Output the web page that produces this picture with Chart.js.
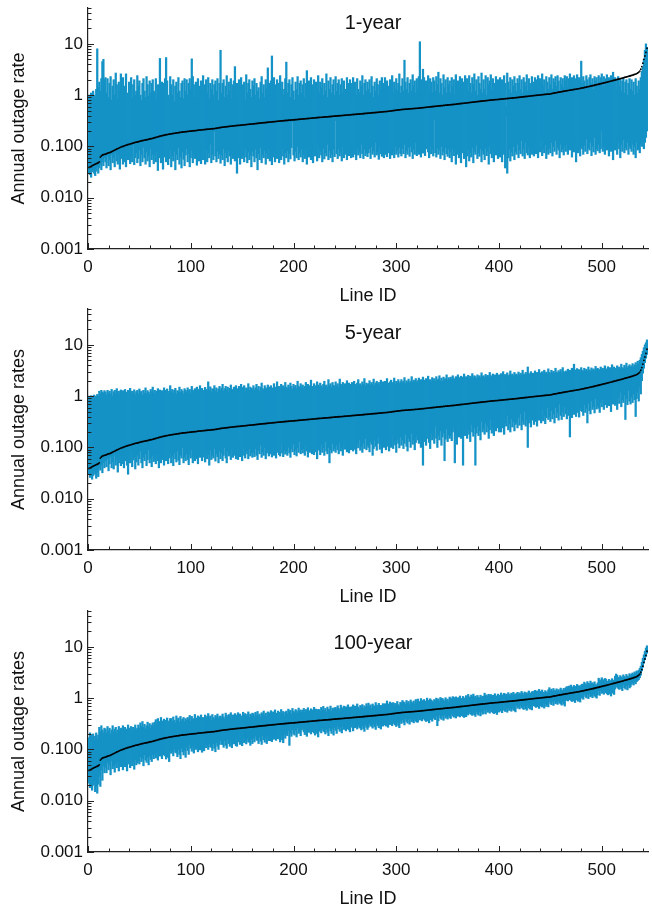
<!DOCTYPE html>
<html><head><meta charset="utf-8">
<title>Annual outage rate</title>
<script src="https://cdn.jsdelivr.net/npm/chart.js"></script>
<style>
    body { margin: 0; background: #fff; width: 652px; height: 912px; overflow: hidden; position: relative; }
    .painel { position: absolute; left: 0; width: 652px; height: 305px; }
</style></head>
<body>
<div class="painel" style="top:0"><canvas id="g1" width="652" height="305"></canvas></div>
<div class="painel" style="top:301px"><canvas id="g5" width="652" height="305"></canvas></div>
<div class="painel" style="top:603px"><canvas id="g100" width="652" height="305"></canvas></div>
<script>
// --- DADOS ---
// taxa de referencia de cada linha (ordenada), igual nos tres paineis
const taxaMedia = [
    .039,.04,.041,.042,.043,.044,.045,.046,.047,.048,.05,.062,.065,.068,.069,.07,
    .071,.072,.074,.075,.076,.077,.079,.081,.083,.085,.087,.089,.091,.093,.095,.097,
    .099,.1,.102,.104,.106,.107,.109,.11,.112,.113,.115,.117,.118,.12,.121,.122,
    .124,.125,.127,.129,.13,.131,.133,.134,.135,.136,.138,.14,.141,.142,.144,.146,
    .148,.15,.152,.154,.156,.158,.16,.162,.164,.165,.167,.169,.17,.172,.173,.175,
    .176,.177,.179,.18,.181,.183,.184,.185,.187,.188,.19,.191,.192,.193,.194,.195,
    .196,.197,.198,.199,.2,.201,.202,.203,.204,.205,.207,.208,.209,.21,.211,.212,
    .213,.214,.215,.216,.217,.218,.219,.22,.221,.222,.223,.225,.226,.228,.23,.232,
    .234,.236,.237,.238,.24,.241,.242,.244,.245,.246,.248,.249,.25,.252,.253,.255,
    .256,.257,.258,.259,.26,.262,.263,.264,.265,.267,.268,.27,.271,.272,.273,.275,
    .276,.277,.279,.28,.282,.283,.285,.286,.287,.289,.29,.291,.293,.294,.296,.297,
    .298,.3,.301,.303,.304,.305,.307,.308,.31,.311,.313,.314,.316,.317,.318,.32,
    .321,.322,.324,.325,.326,.328,.329,.33,.331,.333,.334,.336,.337,.339,.34,.341,
    .343,.344,.346,.347,.349,.35,.352,.353,.355,.356,.358,.359,.361,.362,.364,.366,
    .367,.369,.37,.372,.373,.375,.376,.377,.378,.38,.381,.383,.385,.386,.388,.39,
    .392,.393,.394,.396,.397,.399,.4,.402,.404,.405,.407,.409,.41,.412,.414,.415,
    .417,.419,.42,.422,.424,.426,.427,.429,.431,.433,.434,.436,.438,.44,.442,.443,
    .445,.447,.449,.451,.453,.455,.457,.459,.461,.463,.465,.467,.469,.471,.473,.475,
    .477,.479,.481,.484,.487,.49,.493,.496,.499,.502,.505,.508,.511,.514,.517,.52,
    .523,.526,.528,.53,.532,.534,.536,.538,.54,.542,.544,.546,.548,.55,.552,.554,
    .556,.558,.561,.564,.567,.57,.573,.576,.579,.582,.585,.588,.591,.594,.597,.6,
    .603,.606,.609,.612,.615,.618,.621,.624,.627,.63,.633,.636,.639,.642,.645,.648,
    .651,.654,.657,.66,.663,.667,.671,.675,.679,.683,.687,.69,.693,.697,.7,.704,
    .708,.712,.716,.72,.724,.728,.732,.736,.74,.744,.748,.752,.756,.76,.764,.768,
    .772,.776,.78,.784,.788,.792,.796,.8,.804,.808,.812,.815,.818,.821,.824,.828,
    .832,.836,.84,.844,.848,.852,.856,.86,.864,.868,.872,.876,.88,.884,.888,.892,
    .896,.9,.905,.91,.915,.92,.925,.93,.935,.94,.945,.95,.955,.96,.965,.97,
    .975,.98,.985,.99,.995,1,1.005,1.01,1.015,1.02,1.025,1.03,1.035,1.04,1.045,1.05,
    1.05,1.06,1.07,1.08,1.09,1.1,1.11,1.12,1.13,1.14,1.15,1.16,1.17,1.18,1.19,1.2,
    1.21,1.22,1.23,1.24,1.25,1.26,1.27,1.28,1.29,1.3,1.31,1.32,1.33,1.34,1.35,1.37,
    1.38,1.39,1.41,1.42,1.44,1.45,1.47,1.48,1.5,1.51,1.53,1.54,1.56,1.58,1.6,1.62,
    1.63,1.65,1.67,1.69,1.71,1.73,1.75,1.77,1.79,1.81,1.84,1.86,1.88,1.9,1.93,1.95,
    1.97,2,2.02,2.05,2.07,2.1,2.12,2.15,2.18,2.21,2.24,2.27,2.3,2.33,2.36,2.39,
    2.42,2.46,2.5,2.54,2.58,2.63,2.7,2.8,2.95,3.2,3.6,4.2,5,5.8,6.8,8.2
];

// faixa estimada com 1 ano de registros
const max1Ano = [
    1,.9,1.1,1,1.2,1,.9,1.3,8,1.4,1.8,1.2,2.1,4.5,5,2,
    2.2,1.1,2.1,.9,1.7,2.3,.8,1.5,2,1,2.7,1.6,.85,1.8,1.2,2.6,
    1.7,2.2,.9,1.5,2.6,1.1,.75,1.8,1.2,2.2,.85,1.6,2,1,1.2,2.4,
    1.5,1.9,1,.8,1.7,2.1,1.2,.9,2.3,1.6,.95,1.9,1.1,1.7,2,1.2,
    1.1,2.1,.8,1.6,1,5.2,1.2,1.8,.9,1.7,2.1,5.4,1.9,1,.85,2.3,
    1.6,1,2,.75,1.5,1.8,1.1,2.2,1.2,.9,1.7,1.9,.85,2.1,1.2,2,
    1,1.7,2.1,1.3,5.1,2.3,1.6,.9,1.8,1.1,2.1,1.5,.8,1.9,1.2,2.4,
    .9,1.6,2,1.1,2.2,.85,1.7,1.3,2,1,1.6,1.9,1.2,2.1,.8,1.7,
    7.5,1.1,1.7,2,.9,1.5,2.4,1,1.8,1.2,2.1,.85,1.6,1.9,3.6,1.1,
    1.7,.9,2,1.2,2.2,1,1.6,1.8,.8,2.5,1.1,1.7,2,1.3,.9,1.9,
    1.5,2.1,1,1.7,1.2,1.4,.85,1.8,2.3,1.1,1.6,.9,2,1.3,3.4,1.7,
    1,1.9,5.8,.85,2.2,1.6,1.1,2,.9,1.7,2.4,1.3,1.8,1,1.3,2.1,
    4.4,1.1,1.7,2,.9,1.6,2.2,1.2,.8,1.8,1.3,2.3,1,1.7,1.9,1.1,
    1.6,2.1,.9,1.7,3,1.1,1.9,1.3,2.2,1,1.6,2,.85,1.8,1.2,2.4,
    1.1,1.8,1.4,2.1,1,1.7,1.2,2.6,.9,1.9,1.3,2.2,1.1,1.6,2,1,
    2.3,1.2,1.7,2,1,1.6,2.1,1.1,1.9,1.3,.9,2.2,1.7,1.2,2,1.1,
    1.7,2.2,1.2,1.8,1,2.1,1.3,1.1,1.9,1.5,2.4,1,1.7,2,1.2,1.8,
    1.3,2,1.1,2.3,1.5,.9,1.8,1.2,2.1,1.6,1,1.9,1.3,2.2,1.1,1.7,
    2.2,1.2,1.9,1.5,1,2,1.6,2.4,1.1,1.8,1.3,2.1,1.2,1.7,2.6,1.1,
    1.5,2.1,1.2,4.8,1.8,1.3,2.2,1.1,1.7,2,1.2,2.5,1.5,1.9,1.1,2.1,
    1.3,2.3,11,2,1.5,3.2,2.2,1.2,1.9,1.6,2.4,1.2,2.1,1.8,1.1,2.2,
    1.9,1.2,2.3,1.6,2.8,1.1,2.1,1.7,1,2.5,1.4,2,1.1,2.2,1.6,1.9,
    1.1,2.2,1.5,2,1,2.5,1.6,1.9,1.1,2.3,1.4,2.1,1.2,1.8,2.4,1.4,
    2.1,1.2,2.4,1.7,1.1,2.2,1.6,2.6,1.2,2,1,2.3,1.7,1.3,2.7,1.1,
    2,1.3,2.4,1,2.2,1.6,1.9,2.5,1.2,2.1,1.7,1.1,2.3,1.5,2,1.2,
    2.2,1.5,2,1.1,2.4,1.7,.6,2.7,1.8,1.3,2.2,1.1,2,1.5,2.3,1.7,
    1.2,2.1,1.7,2.4,1.3,2,1.1,2.2,1.8,1.5,2.5,1.2,2.1,1.7,1.3,2.3,
    1.8,1.3,2.2,1.5,2,2.4,1.2,2.1,1.7,2.6,1.5,2,1.1,2.3,1.8,1.3,
    2.2,1.6,2.5,1.3,2.1,1.8,2.3,1.5,2.4,1.9,1.2,2.2,1.6,2.1,1.4,2.4,
    1.9,2.3,1.4,2.1,2.6,1.6,2.2,1.8,2.4,1.3,2.1,2.5,1.6,2.2,1.9,4.6,
    1.7,2.3,1.9,1.4,2.4,2,1.5,2.2,2.5,1.7,2.1,1.3,2.3,1.9,2.2,1.5,
    2.4,1.8,2.2,2.6,1.6,2.3,1.4,2.1,2.5,1.8,2.2,1.5,2.4,2,2.8,1.6,
    2.2,1.3,2,2.3,1.5,2.1,1.2,1.9,2.2,1.1,1.8,2,1,1.7,2.1,1.3,
    2,1.2,1.8,1,2.1,1.5,1.1,1.9,1.3,2.2,2.9,3.5,5,7.5,10,8.5
];
const min1Ano = [
    .03,.028,.025,.032,.035,.03,.027,.033,.04,.03,.038,.045,.035,.05,.042,.06,
    .05,.038,.065,.042,.055,.035,.07,.048,.06,.04,.075,.052,.045,.068,.036,.058,
    .062,.045,.08,.05,.04,.07,.055,.09,.046,.065,.05,.11,.044,.06,.075,.048,
    .058,.085,.042,.07,.05,.095,.06,.045,.078,.052,.065,.04,.088,.055,.07,.046,
    .068,.05,.082,.034,.06,.09,.048,.072,.036,.062,.1,.05,.075,.044,.058,.085,
    .04,.065,.052,.08,.035,.07,.055,.095,.045,.062,.038,.078,.056,.042,.068,.09,
    .05,.072,.04,.06,.085,.048,.07,.058,.1,.043,.065,.052,.08,.046,.07,.055,
    .062,.045,.088,.05,.075,.06,.11,.048,.07,.055,.2,.065,.05,.08,.058,.072,
    .047,.068,.055,.09,.042,.075,.06,.05,.082,.065,.045,.07,.058,.095,.052,.068,
    .03,.06,.075,.045,.085,.058,.07,.05,.09,.062,.048,.078,.055,.067,.04,.08,
    .065,.05,.088,.06,.035,.072,.055,.095,.048,.07,.06,.083,.045,.075,.058,.09,
    .052,.07,.044,.085,.062,.05,.078,.058,.1,.048,.068,.055,.09,.065,.045,.075,
    .06,.082,.05,.072,.057,.095,.3,.068,.052,.08,.06,.1,.055,.075,.062,.088,
    .05,.07,.058,.09,.045,.078,.062,.105,.055,.072,.048,.085,.065,.075,.052,.095,
    .06,.08,.068,.05,.092,.057,.075,.065,.11,.055,.082,.06,.07,.05,.088,.063,
    .32,.072,.058,.09,.065,.078,.052,.1,.06,.082,.07,.055,.095,.066,.078,.06,
    .085,.062,.1,.07,.055,.09,.068,.078,.06,.11,.072,.058,.088,.066,.075,.063,
    .075,.09,.058,.1,.07,.082,.062,.12,.068,.078,.056,.095,.072,.064,.088,.06,
    .07,.085,.063,.105,.075,.058,.092,.068,.08,.06,.1,.07,.085,.062,.095,.073,
    .065,.09,.072,.11,.06,.082,.07,.095,.064,.1,.078,.058,.088,.07,.12,.066,
    .08,.07,.095,.062,.085,.074,.11,.066,.09,.35,.078,.06,.1,.072,.088,.065,
    .34,.075,.062,.092,.07,.085,.058,.1,.068,.08,.055,.095,.072,.064,.088,.06,
    .078,.05,.09,.066,.082,.045,.1,.07,.06,.085,.048,.075,.092,.058,.07,.04,
    .065,.088,.052,.075,.062,.095,.048,.08,.07,.105,.058,.075,.064,.09,.05,.082,
    .07,.055,.092,.066,.08,.045,.1,.072,.06,.085,.05,.078,.068,.095,.058,.075,
    .062,.09,.05,.08,.07,.038,.4,.03,.06,.088,.052,.078,.065,.1,.055,.08,
    .07,.11,.06,.085,.072,.13,.065,.09,.058,.12,.075,.068,.095,.06,.082,.07,
    .1,.065,.088,.072,.12,.06,.095,.078,.14,.066,.09,.075,.11,.058,.085,.07,
    .092,.075,.12,.065,.1,.08,.13,.07,.095,.085,.06,.11,.078,.09,.068,.1,
    .08,.11,.07,.095,.085,.13,.062,.1,.078,.09,.05,.12,.075,.088,.065,.1,
    .09,.07,.105,.08,.14,.072,.095,.085,.12,.066,.1,.078,.15,.07,.09,.082,
    .11,.075,.09,.2,.08,.1,.07,.13,.085,.095,.065,.11,.08,.1,.055,.12,
    .085,.1,.07,.12,.09,.06,.11,.08,.135,.075,.095,.085,.12,.07,.1,.09,
    .08,.11,.07,.1,.06,.12,.085,.09,.075,.11,.1,.13,.09,.12,.15,.2
];

// faixa estimada com 5 anos
const max5Anos = [
    1,.98,1.02,.95,1,1.05,.97,1,1.08,1,1.25,1.1,1.3,1.2,1.15,1.28,
    1.2,1.05,1.3,1.15,1.25,1.1,1.35,1,1.22,1.3,1.12,1.4,1.18,1.25,1.05,1.32,
    1.15,1.28,1.08,1.35,1.2,1,1.3,1.18,1.42,1.1,1.25,1.15,1.33,1.05,1.22,1.3,
    1.1,1.38,1.2,1.25,1.05,1.3,1.15,1.45,1.12,1.28,1.2,1.08,1.35,1.22,1.5,1.15,
    1.3,1.1,1.25,1.4,1.18,1.32,1.05,1.28,1.2,1.45,1.15,1.3,1.38,1.12,1.25,1.6,
    1.2,1.35,1.15,1.3,1.42,1.1,1.28,1.22,1.5,1.18,1.35,1.25,1.1,1.4,1.3,1.2,
    1.45,1.25,1.35,1.15,1.55,1.3,1.2,1.4,1.28,1.5,1.18,1.35,1.6,1.25,1.42,1.3,
    1.2,1.48,1.35,1.25,1.9,1.3,1.52,1.22,1.4,1.35,1.6,1.28,1.45,1.2,1.38,1.55,
    1.3,1.45,1.7,1.25,1.4,1.55,1.32,1.5,1.2,1.42,1.65,1.35,1.28,1.5,1.38,1.6,
    1.4,1.25,1.55,1.35,1.7,1.3,1.48,1.6,1.22,1.45,1.38,1.75,1.3,1.5,1.42,1.35,
    1.6,1.3,1.45,1.7,1.35,1.55,1.25,1.5,1.8,1.4,1.32,1.6,1.45,1.38,1.65,1.5,
    1.35,1.6,1.45,1.3,1.75,1.5,1.4,1.9,1.45,1.55,1.35,1.7,1.48,1.6,1.4,1.85,
    1.5,1.38,1.65,1.45,1.8,1.55,1.35,1.7,1.5,1.62,1.4,1.95,1.55,1.45,1.75,1.5,
    1.65,1.4,1.55,1.85,1.5,1.7,1.45,1.6,2.05,1.55,1.4,1.75,1.6,1.5,1.9,1.65,
    1.5,1.8,1.6,1.45,1.7,1.95,1.55,1.65,1.5,2.1,1.6,1.75,1.5,1.85,1.62,1.55,
    1.9,1.6,1.75,1.5,2.15,1.7,1.6,1.85,1.55,1.75,1.65,2,1.6,1.8,1.52,1.7,
    1.85,1.6,1.95,1.7,1.55,1.8,2.1,1.65,1.75,1.6,1.9,1.7,2.2,1.6,1.8,1.68,
    1.75,2,1.65,1.85,1.7,2.15,1.6,1.8,1.95,1.7,1.85,1.6,2.05,1.75,1.9,1.7,
    1.95,1.75,2.2,1.8,1.65,1.9,2.05,1.75,1.85,2.25,1.7,1.95,1.8,2.1,1.75,1.9,
    2.1,1.8,1.95,2.3,1.75,2,1.85,2.15,1.8,1.95,2.4,1.85,2.05,1.9,2.2,1.8,
    2,2.25,1.85,2.1,1.95,2.35,1.9,2.05,2.2,1.85,2.45,2,2.1,1.9,2.3,2.05,
    2.2,1.95,2.4,2.05,2.15,2.5,2,2.25,1.95,2.35,2.1,2.2,2.6,2.05,2.3,2.15,
    2.35,2.1,2.5,2.2,2.05,2.4,2.25,2.6,2.15,2.3,2.45,2.1,2.35,2.7,2.2,2.4,
    2.3,2.55,2.2,2.45,2.35,2.75,2.25,2.5,2.4,2.2,2.6,2.35,2.5,2.3,2.85,2.45,
    2.5,2.3,2.65,2.4,2.55,2.35,2.9,2.5,2.4,2.7,2.45,2.6,2.35,2.8,2.5,2.6,
    2.4,2.75,2.55,3,2.45,2.65,2.5,2.85,2.4,2.6,3.1,2.55,2.7,2.45,2.9,2.6,
    2.7,2.5,2.95,2.6,2.8,2.55,3.2,2.7,2.6,2.9,2.65,3.7,2.75,2.6,3,2.7,
    2.8,2.6,3.1,2.75,2.9,2.65,3.3,2.85,2.7,3,2.8,3.2,2.75,2.95,2.7,3.4,
    2.9,2.75,3.2,2.85,3.05,2.8,3.5,2.95,2.8,3.15,2.9,3.3,2.85,3.6,3,2.9,
    3.1,2.85,3.35,3,3.2,2.95,3.5,3.1,4.2,3.25,3,3.45,3.1,3.3,2.95,3.6,
    3.2,3,3.5,3.15,3.35,3.05,3.7,3.25,3.1,3.55,3.2,3.4,3.1,3.8,3.3,3.5,
    3.35,3.15,3.7,3.3,3.5,3.2,3.9,3.4,3.25,3.75,3.4,3.6,3.3,4.1,3.5,3.7,
    3.5,3.3,3.9,3.45,3.7,3.4,4.2,3.6,3.45,4,3.6,4.4,3.55,3.8,4.1,3.7,
    3.9,4.3,3.7,4.1,4.5,3.95,4.8,4.3,5,5.6,6.5,7.5,8.8,10,11,12.5
];
const min5Anos = [
    .03,.026,.032,.024,.028,.035,.03,.025,.033,.027,.04,.036,.045,.032,.05,.04,
    .055,.042,.06,.035,.048,.065,.04,.052,.038,.07,.045,.058,.033,.05,.062,.044,
    .048,.068,.04,.055,.075,.045,.03,.06,.05,.08,.042,.057,.065,.038,.052,.07,
    .045,.06,.085,.05,.04,.065,.055,.075,.044,.058,.09,.05,.062,.042,.07,.053,
    .06,.048,.072,.055,.04,.08,.05,.066,.058,.045,.09,.055,.07,.048,.062,.075,
    .05,.068,.044,.078,.06,.052,.085,.056,.046,.07,.062,.1,.05,.065,.055,.075,
    .058,.046,.072,.062,.09,.05,.068,.055,.08,.06,.048,.075,.064,.11,.055,.07,
    .065,.052,.08,.06,.072,.045,.088,.058,.07,.062,.095,.054,.075,.066,.05,.085,
    .06,.078,.055,.07,.1,.062,.05,.085,.068,.075,.058,.09,.064,.12,.07,.06,
    .072,.058,.09,.066,.08,.055,.1,.07,.062,.085,.075,.06,.095,.068,.078,.064,
    .08,.066,.095,.07,.058,.088,.075,.11,.064,.082,.07,.1,.06,.078,.09,.068,
    .075,.092,.065,.085,.07,.105,.062,.08,.095,.072,.068,.12,.078,.066,.088,.074,
    .085,.07,.1,.078,.064,.095,.082,.115,.072,.088,.068,.098,.08,.13,.075,.09,
    .078,.095,.07,.11,.085,.065,.1,.08,.125,.075,.09,.072,.105,.082,.06,.095,
    .088,.072,.115,.08,.098,.07,.13,.085,.075,.1,.05,.09,.078,.12,.085,.095,
    .08,.11,.09,.075,.125,.085,.1,.07,.115,.092,.14,.082,.098,.078,.12,.09,
    .1,.085,.13,.092,.075,.115,.098,.14,.088,.105,.08,.12,.095,.15,.09,.11,
    .1,.082,.13,.115,.07,.095,.14,.105,.088,.12,.16,.092,.11,.078,.135,.1,
    .125,.09,.105,.15,.085,.118,.1,.175,.095,.13,.112,.08,.145,.12,.098,.16,
    .11,.14,.095,.12,.18,.105,.085,.15,.13,.1,.19,.115,.14,.09,.125,.165,
    .14,.12,.2,.1,.155,.045,.13,.17,.11,.22,.15,.125,.095,.185,.14,.16,
    .12,.26,.15,.1,.17,.14,.21,.11,.16,.19,.055,.145,.23,.13,.175,.15,
    .17,.135,.2,.25,.05,.18,.115,.22,.16,.3,.15,.19,.045,.24,.17,.2,
    .15,.22,.18,.13,.28,.2,.165,.24,.045,.19,.26,.17,.21,.14,.32,.2,
    .23,.18,.3,.2,.26,.15,.22,.35,.19,.25,.17,.28,.21,.4,.24,.2,
    .27,.2,.33,.24,.18,.3,.26,.42,.22,.29,.2,.36,.25,.32,.21,.28,
    .3,.24,.38,.27,.45,.22,.33,.28,.5,.26,.35,.1,.3,.4,.25,.34,
    .36,.28,.44,.32,.26,.5,.34,.4,.3,.55,.33,.42,.29,.38,.6,.35,
    .4,.32,.52,.36,.45,.3,.6,.38,.48,.34,.7,.42,.35,.5,.4,.62,
    .45,.36,.58,.42,.16,.5,.38,.65,.44,.55,.4,.75,.48,.39,.6,.52,
    .5,.42,.68,.48,.58,.3,.72,.52,.45,.8,.55,.62,.47,.9,.56,.65,
    .58,.48,.75,.62,.85,.55,.68,.95,.6,1.1,.65,.78,.5,.88,.7,1,
    .66,.8,.55,.95,.72,1.2,.62,.85,.75,1.05,.35,.9,.68,1.3,.8,.7,
    .95,.75,1.1,.85,.4,.9,1.2,.8,1.5,1.1,2,2.8,3.5,4.5,5.5,6.5
];

// faixa estimada com 100 anos
const max100Anos = [
    .17,.21,.16,.19,.2,.15,.18,.21,.16,.19,.27,.22,.29,.24,.21,.26,
    .25,.21,.28,.23,.26,.2,.24,.29,.22,.25,.27,.21,.24,.28,.23,.26,
    .24,.29,.23,.27,.25,.22,.3,.26,.24,.28,.23,.27,.25,.3,.24,.26,
    .3,.26,.33,.28,.35,.27,.31,.25,.29,.34,.28,.32,.26,.3,.33,.29,
    .34,.38,.31,.4,.35,.33,.42,.36,.3,.39,.34,.37,.41,.32,.36,.4,
    .4,.35,.43,.37,.33,.45,.38,.41,.34,.44,.36,.39,.42,.35,.4,.37,
    .42,.38,.46,.35,.44,.4,.37,.48,.41,.36,.45,.39,.43,.47,.38,.42,
    .4,.47,.38,.44,.5,.41,.45,.37,.48,.42,.39,.46,.43,.49,.4,.44,
    .45,.41,.49,.43,.39,.51,.46,.42,.48,.44,.52,.4,.47,.43,.5,.45,
    .47,.52,.43,.49,.45,.41,.53,.46,.5,.44,.48,.54,.42,.49,.46,.51,
    .5,.44,.53,.47,.55,.45,.49,.43,.52,.48,.56,.46,.51,.44,.54,.49,
    .52,.57,.47,.54,.49,.59,.51,.46,.56,.53,.48,.6,.5,.55,.45,.53,
    .56,.5,.61,.54,.58,.49,.63,.55,.52,.6,.57,.51,.64,.55,.59,.53,
    .58,.63,.53,.6,.55,.65,.57,.52,.62,.59,.54,.66,.56,.61,.51,.6,
    .6,.55,.66,.58,.69,.57,.63,.54,.67,.61,.59,.7,.56,.64,.6,.65,
    .66,.6,.71,.63,.57,.73,.65,.62,.7,.58,.68,.64,.74,.61,.67,.63,
    .68,.74,.62,.7,.65,.77,.67,.6,.72,.69,.75,.63,.71,.66,.78,.7,
    .8,.68,.74,.64,.77,.71,.69,.82,.73,.67,.79,.72,.72,.66,.78,.7,
    .78,.74,.88,.77,.72,.84,.8,.76,.82,.7,.79,.73,.86,.75,.69,.83,
    .8,.9,.85,.82,.76,.9,.8,.86,.74,.92,.84,.79,.88,.77,.94,.83,
    .96,.86,.8,.98,.9,.85,.94,.88,.83,1,.91,.87,.97,.92,.88,.82,
    .94,.89,1,.92,.97,.86,1.03,.95,.99,.93,.87,1.02,.9,.96,.85,1.05,
    1,.95,1.07,1.03,.98,1.06,.92,1.02,.96,1.1,.99,.94,1.08,1.01,.97,1.12,
    .97,1.18,1.06,1.02,1.15,1.08,1.2,1.04,1.1,1,1.13,1.05,.99,1.14,1.03,1.09,
    1.09,1.25,1.12,1.16,1.07,1.19,1.1,1.18,1.05,1.14,1.08,1.22,1.11,1.03,1.2,1.13,
    1.11,1.26,1.16,1.1,1.24,1.14,1.2,1.08,1.28,1.18,1.12,1.25,1.17,1.3,1.15,1.21,
    1.22,1.3,1.17,1.27,1.2,1.35,1.25,1.15,1.32,1.24,1.28,1.19,1.38,1.26,1.21,1.33,
    1.35,1.22,1.42,1.31,1.38,1.27,1.48,1.36,1.3,1.44,1.3,1.25,1.4,1.33,1.28,1.45,
    1.6,1.41,1.5,1.37,1.54,1.42,1.36,1.52,1.4,1.47,1.33,1.57,1.45,1.38,1.55,1.43,
    1.6,1.68,1.55,1.72,1.63,1.8,1.66,1.58,1.77,1.7,1.62,1.85,1.69,1.75,1.6,1.8,
    1.88,1.82,2.05,1.92,1.8,2.1,1.95,1.87,2.15,1.93,2,1.86,2.08,1.85,1.78,1.98,
    2.45,2.28,2.2,2.5,2.3,2.22,2.42,2.35,2.15,2.08,2.32,2.2,2.12,2.4,2.25,2.1,
    2.68,2.95,2.8,2.55,2.48,2.75,2.6,2.52,2.85,2.65,2.5,2.9,2.7,2.62,3,2.75,
    2.95,3.1,2.9,3.25,3.05,3.4,3.2,3.5,3.8,4.2,5,6,7,8.2,9.5,10.5
];
const min100Anos = [
    .022,.018,.026,.016,.02,.024,.015,.019,.014,.021,.03,.019,.04,.025,.047,.035,
    .045,.035,.055,.04,.05,.032,.06,.042,.048,.036,.052,.044,.058,.038,.05,.046,
    .05,.04,.062,.046,.055,.038,.06,.052,.044,.065,.048,.057,.041,.063,.05,.054,
    .06,.052,.072,.058,.066,.048,.078,.062,.056,.07,.05,.075,.064,.058,.08,.066,
    .08,.068,.088,.062,.1,.074,.082,.066,.092,.078,.075,.065,.09,.07,.058,.095,
    .084,.092,.075,.102,.088,.085,.072,.1,.08,.066,.105,.09,.078,.095,.07,.11,
    .095,.08,.125,.105,.092,.115,.085,.13,.1,.11,.09,.122,.098,.1,.088,.118,
    .094,.14,.108,.12,.1,.132,.112,.11,.095,.13,.105,.09,.135,.115,.1,.125,
    .15,.125,.125,.11,.148,.12,.105,.155,.13,.115,.145,.108,.16,.128,.138,.118,
    .115,.168,.14,.125,.155,.118,.17,.135,.15,.128,.162,.14,.138,.12,.16,.13,
    .165,.14,.18,.152,.15,.13,.175,.145,.125,.185,.155,.138,.17,.13,.19,.148,
    .148,.18,.142,.2,.158,.175,.15,.192,.162,.16,.14,.188,.155,.135,.196,.165,
    .2,.185,.23,.12,.21,.18,.245,.2,.19,.235,.175,.26,.205,.22,.185,.24,
    .255,.22,.195,.245,.18,.26,.215,.23,.2,.25,.22,.21,.19,.24,.205,.175,
    .225,.24,.21,.26,.23,.22,.2,.25,.215,.185,.265,.23,.205,.255,.19,.27,
    .235,.205,.285,.25,.225,.275,.21,.29,.245,.26,.23,.28,.25,.24,.22,.27,
    .295,.23,.31,.265,.28,.25,.3,.27,.26,.24,.29,.255,.225,.305,.27,.245,
    .27,.32,.29,.28,.26,.31,.275,.245,.325,.29,.265,.315,.25,.33,.285,.3,
    .31,.285,.345,.27,.36,.305,.325,.29,.35,.315,.3,.28,.34,.295,.265,.355,
    .32,.38,.335,.3,.395,.35,.325,.385,.31,.4,.345,.365,.33,.39,.355,.34,
    .34,.44,.375,.4,.36,.43,.39,.37,.35,.42,.36,.33,.435,.38,.355,.425,
    .4,.38,.45,.29,.36,.465,.41,.385,.455,.37,.47,.405,.43,.39,.46,.42,
    .4,.5,.45,.425,.485,.41,.5,.445,.47,.43,.495,.455,.44,.42,.49,.435,
    .51,.47,.545,.5,.48,.46,.53,.475,.44,.55,.49,.465,.54,.45,.55,.485,
    .505,.59,.49,.6,.53,.56,.51,.595,.545,.52,.5,.58,.515,.48,.6,.535,
    .63,.56,.52,.65,.58,.55,.64,.53,.65,.575,.61,.555,.645,.59,.57,.54,
    .72,.635,.67,.615,.715,.655,.63,.6,.7,.62,.58,.72,.645,.61,.71,.59,
    .775,.71,.69,.66,.76,.68,.63,.78,.7,.67,.77,.64,.78,.69,.73,.675,
    .88,.79,.745,.86,.72,.88,.775,.82,.755,.87,.8,.77,.73,.85,.76,.7,
    .9,.94,.88,.99,.93,.9,.86,.97,.88,.82,1,.92,.87,.98,.84,1,
    1.03,.95,1.2,1.08,1.01,1.18,.98,1.2,1.06,1.12,1.02,1.19,1.1,1.05,1,1.16,
    1.38,1.13,1.4,1.24,1.3,1.19,1.39,1.28,1.22,1.16,1.35,1.2,1.1,1.4,1.25,1.18,
    1.5,1.78,1.63,1.55,1.48,1.72,1.52,1.4,1.8,1.6,1.5,1.75,1.45,1.8,1.58,1.66,
    1.85,1.95,1.8,2.05,1.9,2.1,2.2,2.3,2.5,2.8,3.4,4,4.8,5.6,6.5,7.5
];

// eixos
const ticksY = [0.001, 0.01, 0.1, 1, 10];
const rotulosY = ['0.001', '0.010', '0.100', '1', '10'];
const ticksX = [0, 100, 200, 300, 400, 500];

// --- ESTILO ---
const AZUL = '#1592c6';
const COR_EIXO = '#222';
Chart.defaults.font.family = "'Liberation Sans', Arial, sans-serif";
Chart.defaults.color = '#111';
Chart.defaults.animation = false;

// marcas internas nos eixos + titulo dentro da area do grafico
const marcasPlugin = {
    id: 'marcas',
    afterDraw(chart, args, opts) {
        const { ctx, chartArea: a, scales: { x, y } } = chart;
        ctx.save();
        ctx.strokeStyle = COR_EIXO;
        ctx.lineWidth = 1;
        ctx.beginPath();
        for (let v = 0; v <= x.max; v += 20) {
            const px = Math.round(x.getPixelForValue(v)) + 0.5;
            ctx.moveTo(px, a.bottom);
            ctx.lineTo(px, a.bottom - (v % 100 === 0 ? 6 : 3.5));
        }
        ticksY.forEach(dec => {
            for (let m = 1; m <= 9; m++) {
                const v = dec * m;
                if (v > y.max * 1.0001) break;
                const py = Math.round(y.getPixelForValue(v)) + 0.5;
                ctx.moveTo(a.left, py);
                ctx.lineTo(a.left + (m === 1 ? 6 : 3.5), py);
            }
        });
        ctx.stroke();

        ctx.fillStyle = '#111';
        ctx.font = "20px 'Liberation Sans', Arial, sans-serif";
        ctx.textAlign = 'center';
        ctx.textBaseline = 'middle';
        ctx.fillText(opts.texto, (a.left + a.right) / 2 + 5, a.top + opts.dy);
        ctx.restore();
    }
};

function montaGrafico(id, titulo, dy, tituloY, minimos, maximos) {
    const linhas = taxaMedia.map((_, i) => i + 1);
    return new Chart(document.getElementById(id), {
        type: 'bar',
        data: {
            datasets: [
                {
                    type: 'scatter',
                    data: linhas.map((x, i) => ({ x, y: taxaMedia[i] })),
                    pointRadius: 0.9,
                    pointBackgroundColor: '#000',
                    pointBorderWidth: 0,
                    order: 1
                },
                {
                    type: 'bar',
                    data: linhas.map((x, i) => ({ x, y: [minimos[i], maximos[i]] })),
                    backgroundColor: AZUL,
                    barThickness: 1.6,
                    order: 2
                }
            ]
        },
        options: {
            responsive: false,
            layout: { padding: { top: 8, right: 2, left: 0, bottom: 0 } },
            plugins: {
                legend: { display: false },
                tooltip: { enabled: false },
                marcas: { texto: titulo, dy }
            },
            scales: {
                x: {
                    type: 'linear',
                    offset: false,
                    min: 0,
                    max: 545,
                    afterBuildTicks: s => { s.ticks = ticksX.map(v => ({ value: v })); },
                    afterFit: s => { s.height = 56; s.paddingLeft = 0; s.paddingRight = 0; },
                    grid: { display: false, drawTicks: false, offset: false },
                    border: { display: true, color: COR_EIXO, width: 1.2 },
                    ticks: { font: { size: 17 }, padding: 8, maxRotation: 0 },
                    title: { display: true, text: 'Line ID', font: { size: 18, lineHeight: 1 }, padding: 0 }
                },
                y: {
                    type: 'logarithmic',
                    min: 0.001,
                    max: 50,
                    afterBuildTicks: s => { s.ticks = ticksY.map(v => ({ value: v })); },
                    // sem folga extra em cima: o topo do eixo fica no padding do layout
                    afterFit: s => { s.width = 88; s.paddingTop = 0; s.paddingBottom = 0; },
                    grid: { display: false, drawTicks: false },
                    border: { display: true, color: COR_EIXO, width: 1.2 },
                    ticks: {
                        font: { size: 17 },
                        padding: 5,
                        callback: v => rotulosY[ticksY.indexOf(v)] ?? ''
                    },
                    title: { display: true, text: tituloY, font: { size: 18, lineHeight: 1 }, padding: { top: 10, bottom: 0 } }
                }
            }
        },
        plugins: [marcasPlugin]
    });
}

montaGrafico('g1', '1-year', 15, 'Annual outage rate', min1Ano, max1Ano);
montaGrafico('g5', '5-year', 24, 'Annual outage rates', min5Anos, max5Anos);
montaGrafico('g100', '100-year', 32, 'Annual outage rates', min100Anos, max100Anos);
</script></body></html>
